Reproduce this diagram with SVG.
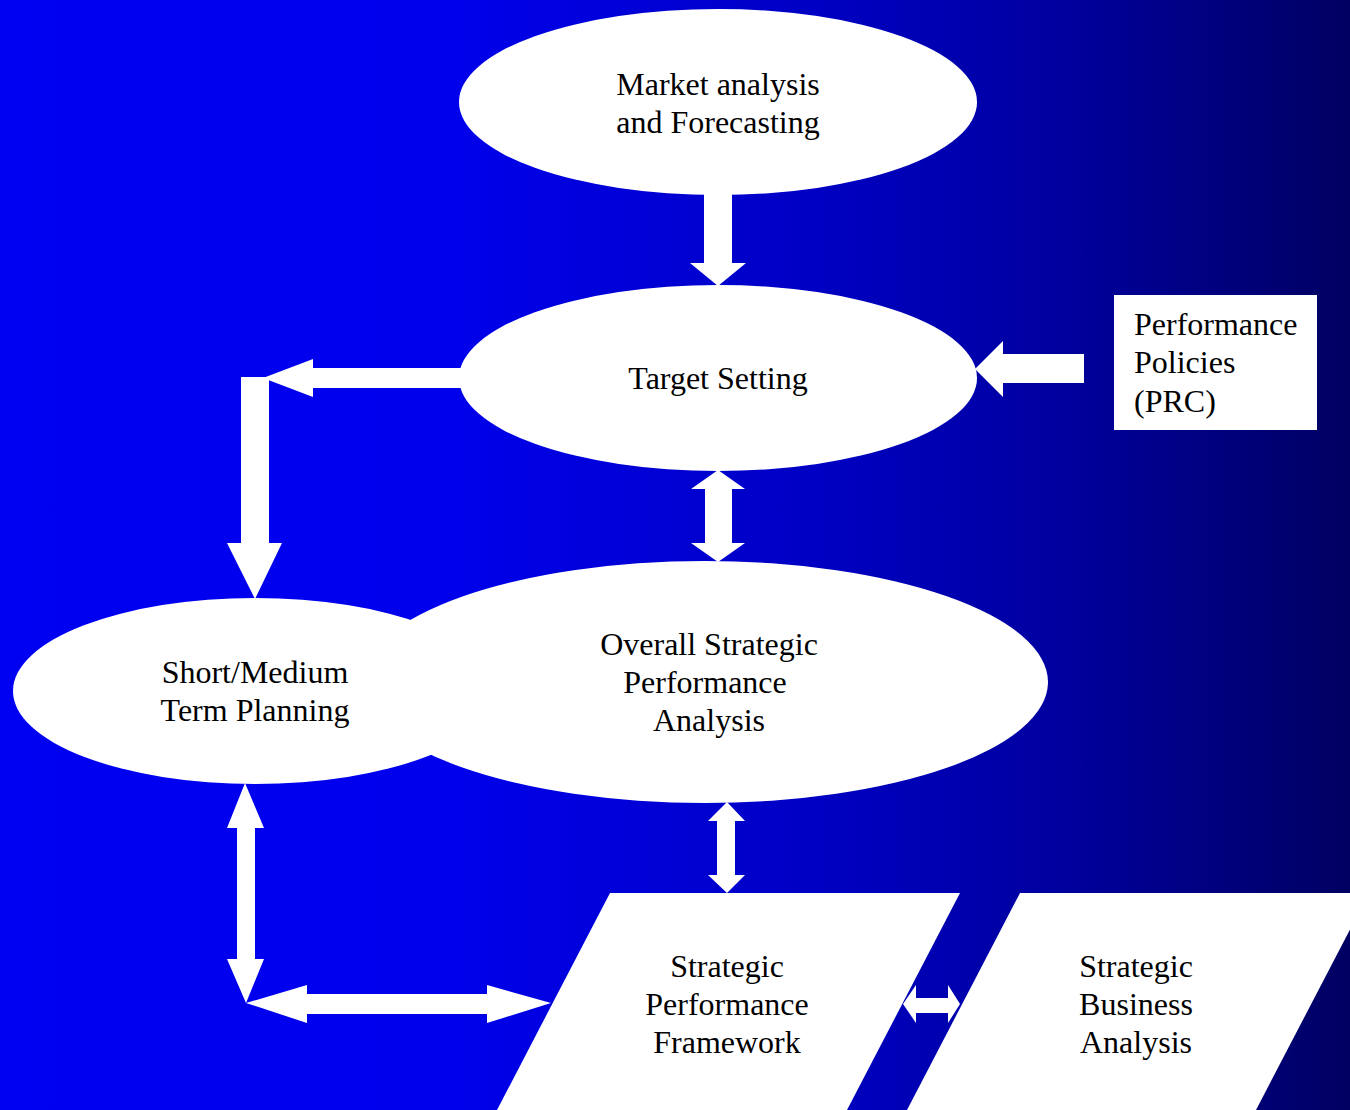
<svg xmlns="http://www.w3.org/2000/svg" width="1350" height="1110" viewBox="0 0 1350 1110">
<defs>
<linearGradient id="bg" x1="0" y1="0" x2="1350" y2="0" gradientUnits="userSpaceOnUse">
<stop offset="0" stop-color="#0000F2"/>
<stop offset="0.33" stop-color="#0000EC"/>
<stop offset="0.6" stop-color="#0000C4"/>
<stop offset="0.78" stop-color="#0000A0"/>
<stop offset="1" stop-color="#000062"/>
</linearGradient>
</defs>
<style>
.shape{fill:#FFFFFF;stroke:none}
.arrow{fill:#FFFFFF;stroke:none}
.label{font-family:"Liberation Serif","Times New Roman",serif;font-size:32px;fill:#000000;text-anchor:middle}
.labell{font-family:"Liberation Serif","Times New Roman",serif;font-size:32px;fill:#000000}
</style>
<rect x="0" y="0" width="1350" height="1110" fill="url(#bg)"/>

<g id="connectors">
<!-- Market -> Target -->
<polygon class="arrow" points="704,193 732,193 732,263 746,263 718,286 690,263 704,263"/>
<!-- Target -> left corner -->
<polygon class="arrow" points="462,368 313,368 313,359 263,378 313,397 313,388 462,388"/>
<!-- down to Short/Medium -->
<polygon class="arrow" points="241,377 269,377 269,543 282,543 255,599 227,543 241,543"/>
<!-- Target <-> Overall -->
<polygon class="arrow" points="718,470 745,489 732,489 732,543 745,543 718,562 691,543 705,543 705,489 691,489"/>
<!-- PRC -> Target -->
<polygon class="arrow" points="1084,354 1003,354 1003,341 975,369 1003,397 1003,383 1084,383"/>
<!-- Overall <-> SPF -->
<polygon class="arrow" points="727,802 745,821 735,821 735,875 745,875 727,893 708,875 717,875 717,821 708,821"/>
<!-- Short/Medium <-> corner -->
<polygon class="arrow" points="245,783 264,828 255,828 255,959 264,959 246,1003 227,959 237,959 237,828 227,828"/>
<!-- corner <-> SPF -->
<polygon class="arrow" points="246,1003 307,985 307,994 487,994 487,985 551,1003 487,1023 487,1014 307,1014 307,1023"/>
<!-- SPF <-> SBA -->
<polygon class="arrow" points="903,1004 916,985 916,998 948,998 948,985 960,1004 948,1023 948,1013 916,1013 916,1023"/>
</g>

<g id="node-market">
<ellipse class="shape" cx="718" cy="102" rx="259" ry="93"/>
<text class="label" x="718" y="95">Market analysis</text>
<text class="label" x="718" y="133">and Forecasting</text>
</g>

<g id="node-target">
<ellipse class="shape" cx="718" cy="378" rx="259" ry="93"/>
<text class="label" x="718" y="389">Target Setting</text>
</g>

<g id="node-prc">
<rect class="shape" x="1114" y="295" width="203" height="135"/>
<text class="labell" x="1134" y="335">Performance</text>
<text class="labell" x="1134" y="373">Policies</text>
<text class="labell" x="1134" y="412">(PRC)</text>
</g>

<g id="node-overall">
<ellipse class="shape" cx="705" cy="682" rx="343" ry="121"/>
<text class="label" x="709" y="655">Overall Strategic</text>
<text class="label" x="705" y="693">Performance</text>
<text class="label" x="709" y="731">Analysis</text>
</g>

<g id="node-shortmedium">
<ellipse class="shape" cx="255" cy="691" rx="242" ry="93"/>
<text class="label" x="255" y="683">Short/Medium</text>
<text class="label" x="255" y="721">Term Planning</text>
</g>

<g id="node-spf">
<polygon class="shape" points="610,893 960,893 847,1110 497,1110"/>
<text class="label" x="727" y="977">Strategic</text>
<text class="label" x="727" y="1015">Performance</text>
<text class="label" x="727" y="1053">Framework</text>
</g>

<g id="node-sba">
<polygon class="shape" points="1020,893 1369,893 1256,1110 907,1110"/>
<text class="label" x="1136" y="977">Strategic</text>
<text class="label" x="1136" y="1015">Business</text>
<text class="label" x="1136" y="1053">Analysis</text>
</g>
</svg>
